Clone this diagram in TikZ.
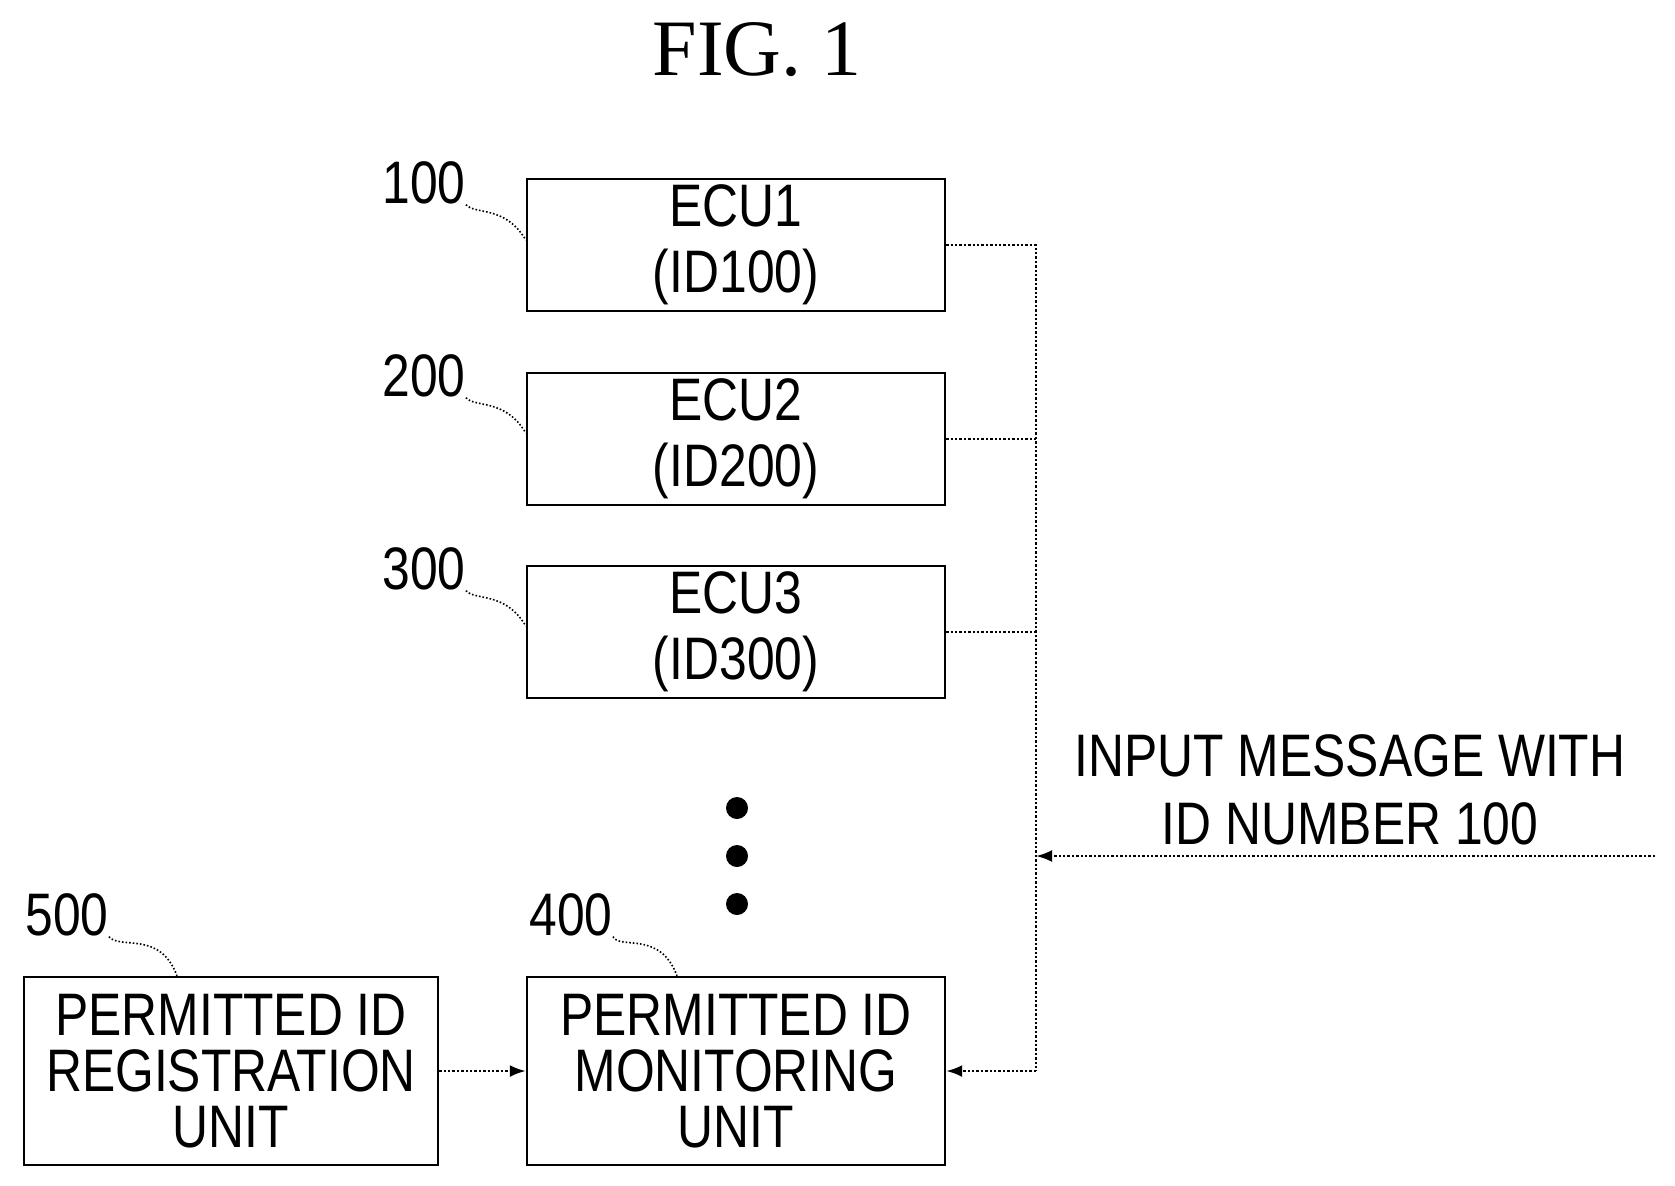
\documentclass[tikz,border=0pt]{standalone}
\usepackage{fontspec}
\setmainfont{Liberation Sans}[FakeStretch=0.83]
\newfontfamily\titlefont{Liberation Serif}
\usetikzlibrary{arrows.meta,positioning}
\tikzstyle{unitbox}=[draw,very thick,rectangle,align=center,font=\fontsize{30}{30}\selectfont,inner sep=0pt]
\tikzstyle{refnum}=[font=\fontsize{30}{30}\selectfont,inner sep=0pt]
\tikzstyle{bus}=[densely dotted,very thick]
\tikzstyle{leader}=[densely dotted,thick]

\begin{document}
\begin{tikzpicture}[x=0.5pt,y=-0.5pt]
            \useasboundingbox (0,0) rectangle (1675,1185);
            \node[font=\titlefont\fontsize{40}{40}\selectfont] (fig) at (757,50) {FIG. 1};
            \node[unitbox,minimum width=209pt,minimum height=66pt] (ecua) at (736,245) {ECU1\\[3pt](ID100)};
            \node[unitbox,minimum width=209pt,minimum height=66pt] (ecub) at (736,439) {ECU2\\[3pt](ID200)};
            \node[unitbox,minimum width=209pt,minimum height=66pt] (ecuc) at (736,632) {ECU3\\[3pt](ID300)};
            \node[unitbox,minimum width=209pt,minimum height=94pt] (mon) at (736,1071) {PERMITTED ID\\[-2pt]MONITORING\\[-2pt]UNIT};
            \node[unitbox,minimum width=207pt,minimum height=94pt] (reg) at (231,1071) {PERMITTED ID\\[-2pt]REGISTRATION\\[-2pt]UNIT};
            \node[refnum] (na) at (424,183) {100};
            \node[refnum] (nb) at (424,376) {200};
            \node[refnum] (nc) at (424,569) {300};
            \node[refnum] (ne) at (67,915) {500};
            \node[refnum] (nd) at (571,915) {400};
            \node[align=center,font=\fontsize{30}{30}\selectfont] (msg) at (1350,790) {INPUT MESSAGE WITH\\[4pt]ID NUMBER 100};
            \coordinate (src) at (1655,856);
            \coordinate (tap) at (1036,856);
            \coordinate (top) at (1036,245);
            \coordinate (bot) at (1036,1071);
            \foreach \d in {808,856,904}
              \fill (737,\d) circle (11);
            \draw [leader] (na.south east) .. controls (475,215) and (505,205) .. (ecua.north west |- 0,240);
            \draw [leader] (nb.south east) .. controls (475,408) and (505,398) .. (ecub.north west |- 0,433);
            \draw [leader] (nc.south east) .. controls (475,601) and (505,591) .. (ecuc.north west |- 0,626);
            \draw [leader] (ne.south east) .. controls (120,950) and (160,930) .. (reg.north west -| 177,0);
            \draw [leader] (nd.south east) .. controls (620,950) and (660,930) .. (mon.north west -| 677,0);
            \draw [bus] (ecua.east) -- (top) -- (bot);
            \draw [bus] (ecub.east) -- (ecub.east -| tap);
            \draw [bus] (ecuc.east) -- (ecuc.east -| tap);
            \draw [bus,-{Latex[length=8pt]}] (bot) -- (mon.east);
            \draw [bus,-{Latex[length=8pt]}] (src) -- (tap);
            \draw [bus,-{Latex[length=8pt]}] (reg.east) -- (mon.west);
  \end{tikzpicture}
\end{document}
